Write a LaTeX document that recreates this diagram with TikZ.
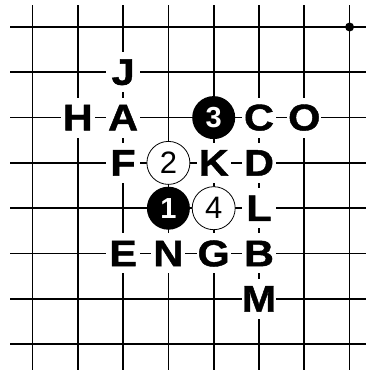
\documentclass[tikz,border=0pt]{standalone}
\usepackage{fontspec}
\setmainfont{Liberation Sans}
\newfontfamily\lblfont{Liberation Sans}[FakeStretch=1.12, FakeBold=1.2]
\newfontfamily\numfont{Liberation Sans}
\begin{document}
\begin{tikzpicture}[x=1pt,y=1pt,
  gridline/.style={line width=1.7pt,black},
  letter/.style={fill=white, inner sep=0pt, minimum width=34pt, minimum height=40pt,
    font=\lblfont\bfseries\fontsize{37}{37}\selectfont},
  bstone/.style={circle, fill=black, minimum size=43pt, inner sep=0pt, text=white,
    font=\numfont\bfseries\fontsize{29}{29}\selectfont},
  wstone/.style={circle, fill=white, draw=black, line width=0.8pt, minimum size=43pt,
    inner sep=0pt, font=\numfont\fontsize{31}{31}\selectfont}]
\useasboundingbox (0,0) rectangle (366,370);
\fill[white] (0,0) rectangle (366,370);
\foreach \i in {0,...,7}{
  \draw[gridline] ({32.5+45.3*\i},0) -- ({32.5+45.3*\i},365);
  \draw[gridline] (10,{343-45.3*\i}) -- (366,{343-45.3*\i});
}
\begin{scope}[shift={(32.5pt,343pt)}, x=45.3pt, y=-45.3pt]
  \fill (7,0) circle (4.5pt);
  % letters
  \node[letter] (J) at (2,1) {J};
  \node[letter] (H) at (1,2) {H};
  \node[letter] (A) at (2,2) {A};
  \node[letter] (C) at (5,2) {C};
  \node[letter] (O) at (6,2) {O};
  \node[letter] (F) at (2,3) {F};
  \node[letter] (K) at (4,3) {K};
  \node[letter] (D) at (5,3) {D};
  \node[letter] (L) at (5,4) {L};
  \node[letter] (E) at (2,5) {E};
  \node[letter] (N) at (3,5) {N};
  \node[letter] (G) at (4,5) {G};
  \node[letter] (B) at (5,5) {B};
  \node[letter] (M) at (5,6) {M};
  % stones
  \node[bstone] (s3) at (4,2) {3};
  \node[wstone] (s2) at (3,3) {2};
  \node[bstone] (s1) at (3,4) {1};
  \node[wstone] (s4) at (4,4) {4};
\end{scope}
\end{tikzpicture}
\end{document}
